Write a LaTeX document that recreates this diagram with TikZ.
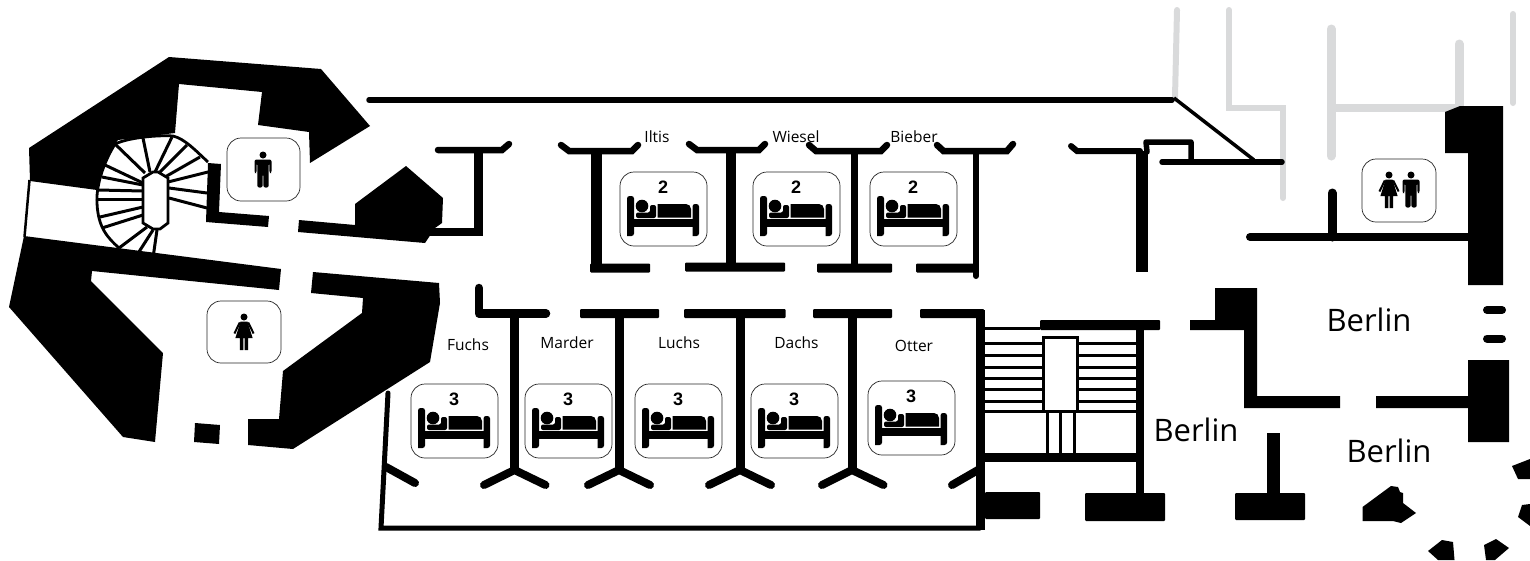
\documentclass[tikz,border=0pt]{standalone}
\usepackage{fontspec}
\setmainfont{Open Sans}
\newfontfamily\numfont{Liberation Sans}
\definecolor{greywall}{HTML}{D9DADB}
\tikzset{
  wall/.style={line width=#1,black,line cap=round,line join=miter},
  wall/.default=5pt,
  block/.style={fill=black,draw=none},
  grey/.style={line width=#1,greywall,line cap=round,line join=miter},
  signbox/.style={draw=black!85,line width=0.7pt,rounded corners=14pt,fill=white},
  roomname/.style={font=\fontsize{15.5}{18}\selectfont,inner sep=0pt},
  cityname/.style={font=\fontsize{31}{36}\selectfont,inner sep=0pt},
  bednum/.style={font=\numfont\bfseries\fontsize{18}{20}\selectfont,inner sep=0pt},
  tread/.style={line width=3pt,black},
  spoke/.style={line width=3pt,black}
}
\newcommand{\bedsign}[3]{%
\begin{scope}[shift={(#1,#2)}]
 \draw[signbox] (0,0) rectangle (87,74);
 \node[bednum] (num#1) at (43,15) {#3};
 \fill[rounded corners=2.5pt] (7,64) -- (7,24) -- (14,24) -- (14,64) [sharp corners] -- cycle;
 \fill[rounded corners=2.5pt] (72.5,64) -- (72.5,32) -- (79,32) -- (79,64) [sharp corners] -- cycle;
 \fill (14,47) rectangle (72.5,55);
 \fill (37.5,32) -- (66,32) to[out=0,in=90] (71,37) -- (71,45.5) -- (37.5,45.5) -- cycle;
 \fill (22,34) circle (6.3);
 \fill[rounded corners=2pt] (16,40.5) -- (30,40.5) -- (30,33) -- (36,33) -- (36,46) -- (16,46) -- cycle;
\end{scope}}
\newcommand{\manfig}[2]{%
\begin{scope}[shift={(#1,#2)}]
 \fill (0,0) circle (3.5);
 \fill[rounded corners=2pt] (-8.5,18) -- (-8.5,4.5) -- (8.5,4.5) -- (8.5,18) -- (6.4,18) -- (6.4,8) -- (5.7,8) -- (5.7,32.5) -- (0.4,32.5) -- (0.4,19) -- (-0.4,19) -- (-0.4,32.5) -- (-5.7,32.5) -- (-5.7,8) -- (-6.4,8) -- (-6.4,18) -- cycle;
\end{scope}}
\newcommand{\womanfig}[2]{%
\begin{scope}[shift={(#1,#2)}]
 \fill (0,0) circle (3.5);
 \fill (-3.5,4.5) -- (3.5,4.5) -- (8.6,21) -- (4.2,21) -- (4.2,33) -- (0.6,33) -- (0.6,21) -- (-0.6,21) -- (-0.6,33) -- (-4.2,33) -- (-4.2,21) -- (-8.6,21) -- cycle;
 \draw[line width=2pt] (-4.2,5.5) -- (-9.6,16.5);
 \draw[line width=2pt] (4.2,5.5) -- (9.6,16.5);
\end{scope}}
\begin{document}
\begin{tikzpicture}[x=1pt,y=-1pt]
\useasboundingbox (0,0) rectangle (1530,560);
% grey walls
\draw[grey=6pt] (1177,10) -- (1175,97);
\draw[grey=6pt] (1229,10) -- (1229,108) -- (1283,108) -- (1283,198);
\draw[grey=9pt] (1331,29) -- (1331,156);
\draw[grey=8pt] (1331,108) -- (1459,108);
\draw[grey=9pt] (1459,44) -- (1459,108);
\draw[grey=6pt] (1513,14) -- (1513,103);
% left massive parts
\fill[block] (169,57) -- (321,69) -- (370,126) -- (310,163) -- (309,132) -- (258,125) -- (262,92) -- (179,84) -- (175,133) -- (118,140) -- (115,144) -- (103,167) -- (97,190) -- (30,181) -- (29,148) -- cycle;
\fill[block] (24,236) -- (281,269) -- (279,290) -- (92,271) -- (91,281) -- (163,353) -- (155,442) -- (123,437) -- (9,307) -- cycle;
\draw[line width=2.5pt] (29.5,180) -- (24.5,237);
\fill[block] (313,272) -- (439,283) -- (440,303) -- (430,362) -- (293,449) -- (248,445) -- (248,419) -- (279,419) -- (283,371) -- (362,313) -- (363,298) -- (311,293) -- cycle;
\fill[block] (195,423) -- (220,425) -- (219,444) -- (194,442) -- cycle;
\fill[block] (208,163) -- (221,164) -- (219,212) -- (269,216) -- (268,227) -- (206,222) -- cycle;
\fill[block] (406,166) -- (443,198) -- (442,223) -- (435,228) -- (425,243) -- (298,232) -- (299,220) -- (355,225) -- (355,204) -- cycle;
% spiral stair
\draw[line width=2.8pt] (119,248) .. controls (108,238) and (98,228) .. (97,203) .. controls (96,188) and (102,165) .. (115,144) .. controls (130,137) and (160,135) .. (173,136) .. controls (185,139) and (195,150) .. (208,162);
\foreach \a/\b/\c/\d in {145/173/115/144,150/172/143/138,155/172/172/137,160/172/187/145,165/177/200/157,168/182/208/172,169/188/207/193,169/198/207/208,143/183/105/165,143/185/102/177,143/191/98/190,143/199/98/199,143/207/100/217,143/215/102/228,147/227/119/248,153/230/135/258,157/230/153/258}
  \draw[spoke] (\a,\b) -- (\c,\d);
\draw[line width=2.8pt,fill=white] (143,178) -- (153,172) -- (158,172) -- (168,178) -- (168,223) -- (160,229) -- (153,229) -- (143,223) -- cycle;
% top wall & upper row of rooms
\draw[wall=5.5pt] (369,100) -- (1172,100);
\draw[wall=8pt] (424,232) -- (478,232);
\draw[wall=9pt,line cap=butt] (478,150) -- (478,236);
\draw[wall=6.5pt] (438,150) -- (502,150) -- (509,144);
\draw[wall=6.5pt] (561,145) -- (569,151) -- (632,151) -- (638,145);
\draw[wall=6.5pt] (689,144) -- (697,150) -- (759,150) -- (765,144);
\draw[wall=6.5pt] (809,145) -- (816,151) -- (881,151) -- (887,145);
\draw[wall=6.5pt] (937,145) -- (943.5,151) -- (1007,151) -- (1013,144);
\draw[line width=11pt] (596,151) -- (596,272);
\draw[line width=10pt] (731,150) -- (731,267);
\draw[line width=7pt] (854,151) -- (854,268);
\draw[wall=6pt] (976,151) -- (976,276);
\fill[block,rounded corners=1pt] (590,263.5) rectangle (650,272.5);
\fill[block,rounded corners=1pt] (685,262.5) rectangle (785,271.5);
\fill[block,rounded corners=1pt] (817,263.5) rectangle (892,272.5);
\fill[block,rounded corners=1pt] (916,263.5) rectangle (975,272.5);
% upper right part of corridor
\draw[wall=6pt] (1071,146) -- (1077,151) -- (1140,151);
\draw[line width=12pt,line cap=butt] (1142,151) -- (1142,272);
\draw[wall=5.5pt,line join=round] (1147,152) -- (1146,142) -- (1191,142) -- (1191,162);
\draw[wall=5.5pt] (1162,162) -- (1282,162);
\draw[line width=3.5pt] (1174,98) -- (1254,160);
\fill[block] (1445,112) -- (1460,106) -- (1503,106) -- (1503,285) -- (1468,285) -- (1468,153) -- (1445,153) -- cycle;
\draw[wall=8pt] (1250,237) -- (1468,237);
\draw[wall=9pt] (1332,193) -- (1332,237);
% lower row
\draw[wall=8.5pt,line join=round] (479,288) -- (479,313.5) -- (546,313.5);
\foreach \a/\b in {580/659,684/785.5,813/892,920/984}
  \fill[block,rounded corners=1pt] (\a,309) rectangle (\b,318);
\foreach \s/\l/\r in {514.5/484/545.5,619/588/650,740/709/771,852/822/883.5}{
  \draw[line width=9pt] (\s,313) -- (\s,468);
  \draw[wall=8pt,line join=miter] (\l,485) -- (\s,470) -- (\r,485);
}
\draw[wall=8pt] (386,467) -- (415,483);
\draw[wall=8pt] (978,470) -- (952,485);
\draw[line width=9pt] (980,310) -- (980,530);
\draw[wall=5pt] (388,393) -- (381,528) -- (980,528);
% stair block
\draw[line width=3pt] (984,328) -- (1040,328);
\fill[block,rounded corners=1pt] (1040,320) rectangle (1160,330);
\draw[line width=8pt] (1140,330) -- (1140,493);
\draw[line width=9pt] (980,457.5) -- (1140,457.5);
\foreach \y in {343,355,367,378,389,401,411}{
  \draw[tread] (984,\y) -- (1136,\y);
}
\foreach \x in {1047,1060,1074}
  \draw[line width=3pt] (\x,410) -- (\x,454);
\draw[line width=3pt,fill=white] (1043.5,337.5) rectangle (1077.5,411);
\fill[block,rounded corners=1pt] (985,492) rectangle (1040,519);
\fill[block,rounded corners=1pt] (1085,493) rectangle (1165,521);
% right side
\fill[block,rounded corners=1pt] (1235,493) rectangle (1305,520);
\fill[block] (1266.5,433) rectangle (1280,494);
\fill[block] (1215,288) -- (1257,288) -- (1257,396) -- (1340,396) -- (1340,408) -- (1244,408) -- (1244,330) -- (1190,330) -- (1190,320) -- (1215,320) -- cycle;
\fill[block] (1376,396) -- (1468,396) -- (1468,360) -- (1509,360) -- (1509,442) -- (1468,442) -- (1468,408) -- (1376,408) -- cycle;
\draw[line width=8pt,line cap=round] (1487,310) -- (1502,310);
\draw[line width=8pt,line cap=round] (1487,338.5) -- (1502,338.5);
% round tower pieces
\fill[block] (1362.5,507) -- (1391,486) -- (1398,487) -- (1400,492) -- (1403,493) -- (1403,503) -- (1416,513) -- (1401,523) -- (1393,521) -- (1362.5,521) -- cycle;
\fill[block] (1428,551) -- (1442,540) -- (1453,542) -- (1454.5,560) -- (1438,560) -- cycle;
\fill[block] (1484,545) -- (1496,539) -- (1509,548) -- (1495,560) -- (1486,560) -- cycle;
\fill[block] (1518,517) -- (1522,505) -- (1530,504) -- (1530,526) -- cycle;
\fill[block] (1512,466) -- (1530,459) -- (1530,479) -- (1518,479) -- cycle;
% signs
\draw[signbox] (227,138) rectangle (300,201);
\manfig{263}{155}
\draw[signbox] (207,301) rectangle (281,363);
\womanfig{244}{317}
\draw[signbox] (1362,159) rectangle (1436,222);
\womanfig{1389}{175}
\manfig{1411}{175}
\bedsign{620}{172}{2}
\bedsign{753}{172}{2}
\bedsign{870}{172}{2}
\bedsign{411}{384}{3}
\bedsign{525}{384}{3}
\bedsign{635}{384}{3}
\bedsign{751}{384}{3}
\bedsign{868}{381}{3}
% names
\node[roomname] (iltis) at (657,137) {Iltis};
\node[roomname] (wiesel) at (796,137) {Wiesel};
\node[roomname] (bieber) at (914,137) {Bieber};
\node[roomname] (fuchs) at (468,345) {Fuchs};
\node[roomname] (marder) at (567,343) {Marder};
\node[roomname] (luchs) at (679,343) {Luchs};
\node[roomname] (dachs) at (796.5,343) {Dachs};
\node[roomname] (otter) at (914,346) {Otter};
\node[cityname] (berlinA) at (1369,320) {Berlin};
\node[cityname] (berlinB) at (1196,430) {Berlin};
\node[cityname] (berlinC) at (1389,451) {Berlin};
\end{tikzpicture}
\end{document}
